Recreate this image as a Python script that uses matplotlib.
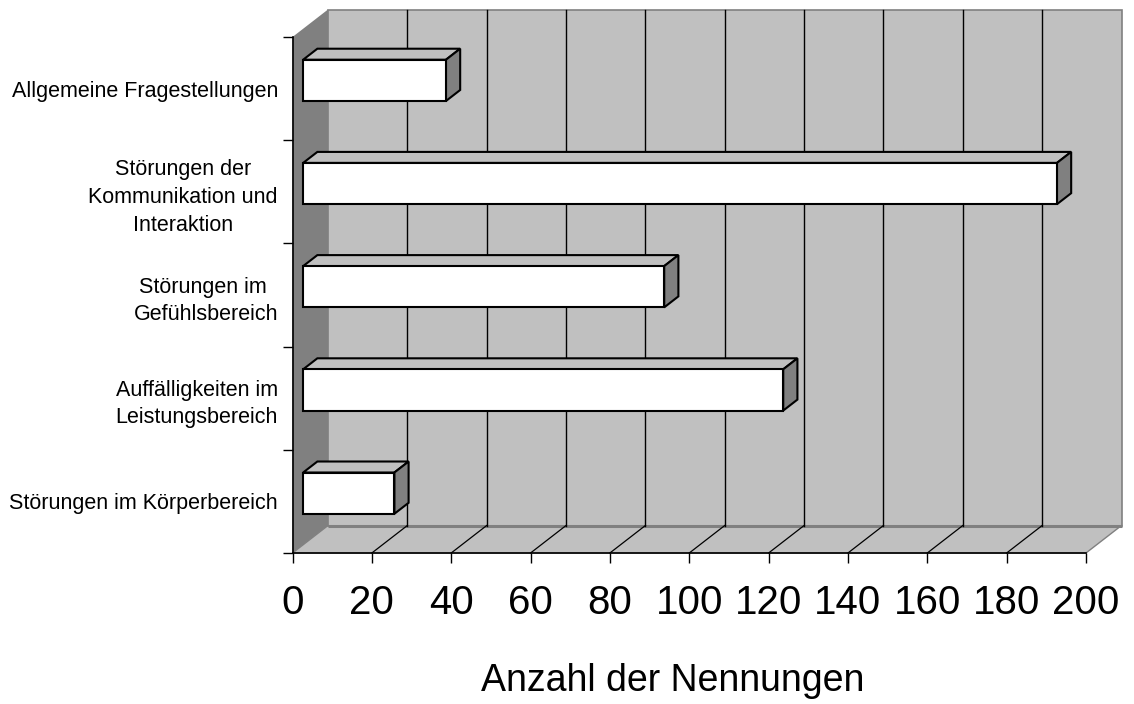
import matplotlib
matplotlib.use("Agg")
import matplotlib.pyplot as plt
from matplotlib.patches import Polygon

plt.rcParams['font.family'] = ['Liberation Sans', 'DejaVu Sans']

# ---- data (top to bottom as shown) ----
categories = [
    "Allgemeine Fragestellungen",
    "Störungen der\nKommunikation und\nInteraktion",
    "Störungen im \nGefühlsbereich",
    "Auffälligkeiten im\nLeistungsbereich",
    "Störungen im Körperbereich",
]
values = [36, 190, 91, 121, 23]
x_ticks = [0, 20, 40, 60, 80, 100, 120, 140, 160, 180, 200]
x_label = "Anzahl der Nennungen"

# ---- figure / front plane of the 3D box ----
W, H = 1134, 704
fig = plt.figure(figsize=(W / 100, H / 100), dpi=100)
left_px, right_px, top_px, bot_px = 292.5, 1086, 37, 553
ax = fig.add_axes([left_px / W, 1 - bot_px / H,
                   (right_px - left_px) / W, (bot_px - top_px) / H])
ax.set_facecolor('none')

n = len(categories)
xmax = x_ticks[-1]
ax.set_xlim(0, xmax)
ax.set_ylim(-0.5, n - 0.5)

# depth offsets in data units
px_per_x = (right_px - left_px) / xmax
px_per_y = (bot_px - top_px) / n
DX = 35.5 / px_per_x
DY = 27.5 / px_per_y

WALL = '#C0C0C0'
DARK = '#808080'
y0, y1 = -0.5, n - 0.5

# side wall
ax.add_patch(Polygon([(0, y0), (0, y1), (DX, y1 + DY), (DX, y0 + DY)],
                     closed=True, facecolor=DARK, edgecolor='none',
                     clip_on=False, zorder=1))
# floor
ax.add_patch(Polygon([(0, y0), (xmax, y0), (xmax + DX, y0 + DY), (DX, y0 + DY)],
                     closed=True, facecolor=WALL, edgecolor=DARK, lw=1,
                     clip_on=False, zorder=1))
# back wall
ax.add_patch(Polygon([(DX, y0 + DY), (xmax + DX, y0 + DY),
                      (xmax + DX, y1 + DY), (DX, y1 + DY)],
                     closed=True, facecolor=WALL, edgecolor=DARK, lw=1.2,
                     clip_on=False, zorder=1))
ax.plot([DX, xmax + DX], [y0 + DY, y0 + DY], color=DARK, lw=2.2,
        clip_on=False, zorder=1.5, solid_capstyle='butt')

# gridlines
for v in x_ticks[1:-1]:
    ax.plot([v + DX, v + DX], [y0 + DY, y1 + DY], color='black', lw=1.0,
            clip_on=False, zorder=2)
    ax.plot([v, v + DX], [y0, y0 + DY], color='black', lw=0.9,
            clip_on=False, zorder=2)

# bars (3D boxes)
d0, d1 = 0.3, 0.7
bh = 0.4
for i, v in enumerate(values):
    c = n - 1 - i
    yb, yt = c - bh / 2, c + bh / 2
    front = [(d0 * DX, yb + d0 * DY), (v + d0 * DX, yb + d0 * DY),
             (v + d0 * DX, yt + d0 * DY), (d0 * DX, yt + d0 * DY)]
    top = [(d0 * DX, yt + d0 * DY), (v + d0 * DX, yt + d0 * DY),
           (v + d1 * DX, yt + d1 * DY), (d1 * DX, yt + d1 * DY)]
    side = [(v + d0 * DX, yb + d0 * DY), (v + d1 * DX, yb + d1 * DY),
            (v + d1 * DX, yt + d1 * DY), (v + d0 * DX, yt + d0 * DY)]
    for pts, fc in ((top, WALL), (side, DARK), (front, 'white')):
        ax.add_patch(Polygon(pts, closed=True, facecolor=fc,
                             edgecolor='black', lw=1.5, joinstyle='miter',
                             clip_on=False, zorder=3))

# spines
for s in ('top', 'right'):
    ax.spines[s].set_visible(False)
for s in ('left', 'bottom'):
    ax.spines[s].set_color('black')
    ax.spines[s].set_linewidth(1.2)
    ax.spines[s].set_zorder(4)

# x ticks
ax.set_xticks(x_ticks)
ax.set_xticklabels([str(t) for t in x_ticks], fontsize=29)
ax.tick_params(axis='x', direction='out', length=7.5, width=1, pad=15,
               color='black')

# y ticks at category boundaries, labels at centres
ax.set_yticks([k - 0.5 for k in range(n + 1)])
ax.set_yticklabels([])
ax.tick_params(axis='y', which='major', direction='out', length=7.5, width=1)
ax.set_yticks(range(n), minor=True)
ax.set_yticklabels(categories[::-1], minor=True, fontsize=15.5,
                   linespacing=1.42)
ax.tick_params(axis='y', which='minor', length=0, pad=10.5)
for lbl in ax.get_yticklabels(minor=True):
    lbl.set_multialignment('center')

ax.set_xlabel(x_label, fontsize=27)
ax.xaxis.set_label_coords((673 - left_px) / (right_px - left_px),
                          -(681 - bot_px) / (bot_px - top_px))
ax.xaxis.label.set_verticalalignment('center')

fig.savefig('out.png', dpi=100)
